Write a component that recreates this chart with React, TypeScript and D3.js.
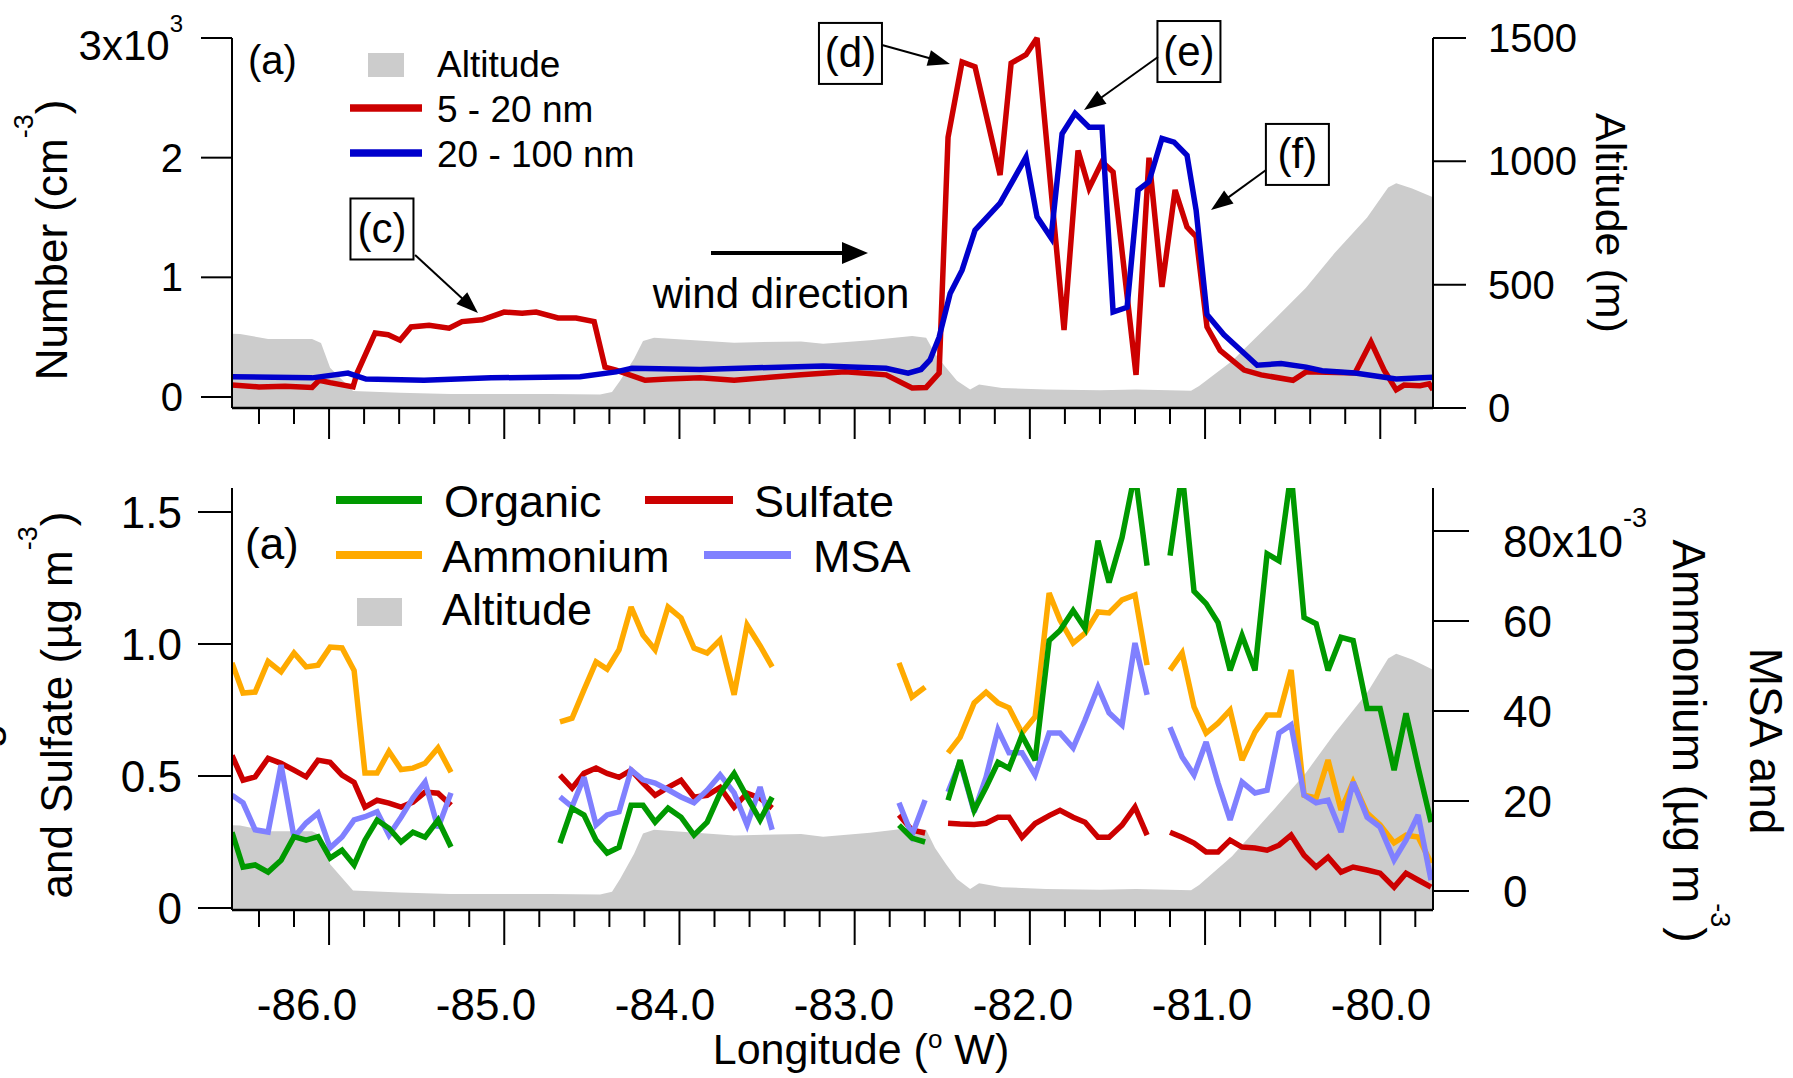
import React from 'react';
import * as d3 from 'd3';

const FONT = '"Liberation Sans", Arial, Helvetica, sans-serif';

// ---------------- Top panel: particle number concentration (cm-3) ----------------
const lon5to20 = [
  -86.554, -86.4, -86.251, -86.097, -86.057, -85.994, -85.863, -85.84, -85.737, -85.663,
  -85.595, -85.532, -85.429, -85.315, -85.241, -85.127, -85.001, -84.898, -84.818, -84.693,
  -84.59, -84.487, -84.425, -84.362, -84.196, -84.071, -83.882, -83.688, -83.483, -83.306,
  -83.055, -82.821, -82.672, -82.592, -82.518, -82.467, -82.387, -82.313, -82.17, -82.107,
  -82.022, -81.959, -81.805, -81.725, -81.662, -81.588, -81.525, -81.394, -81.32, -81.246,
  -81.171, -81.103, -81.051, -80.989, -80.914, -80.777, -80.68, -80.498, -80.423, -80.144,
  -80.053, -79.978, -79.909, -79.864, -79.773, -79.721, -79.699,
];
const num5to20 = [
  100, 84, 90, 80, 140, 120, 84, 200, 535, 520,
  475, 585, 600, 575, 630, 645, 710, 700, 710, 660,
  660, 630, 250, 225, 140, 150, 160, 140, 165, 185,
  210, 185, 75, 80, 200, 2170, 2800, 2760, 1855, 2790,
  2860, 3000, 560, 2060, 1745, 1965, 1880, 185, 2000, 920,
  1730, 1420, 1340, 585, 390, 225, 185, 140, 210, 200,
  460, 225, 60, 100, 95, 110, 60,
];
const lon20to100 = [
  -86.554, -86.097, -85.892, -85.789, -85.458, -85.075, -84.567, -84.362, -84.271, -83.882,
  -83.18, -82.821, -82.695, -82.621, -82.57, -82.518, -82.455, -82.387, -82.313, -82.17,
  -82.073, -82.022, -81.959, -81.879, -81.816, -81.742, -81.662, -81.588, -81.525, -81.445,
  -81.382, -81.32, -81.246, -81.177, -81.103, -81.051, -80.989, -80.892, -80.703, -80.566,
  -80.423, -80.332, -80.144, -79.909, -79.699,
];
const num20to100 = [
  170, 160, 200, 150, 140, 160, 170, 210, 240, 230,
  260, 240, 200, 230, 310, 500, 865, 1060, 1395, 1620,
  1870, 2005, 1505, 1330, 2200, 2370, 2255, 2255, 710, 750,
  1730, 1800, 2160, 2130, 2020, 1560, 690, 520, 265, 280,
  250, 220, 200, 150, 165,
];

// ---------------- Altitude (m), shown in both panels ----------------
const lonAlt = [
  -86.554, -86.508, -86.348, -86.097, -86.046, -85.994, -85.863, -85.595, -85.309, -84.739,
  -84.453, -84.385, -84.339, -84.259, -84.208, -84.145, -83.688, -83.306, -83.18, -82.912,
  -82.672, -82.592, -82.541, -82.478, -82.416, -82.341, -82.29, -82.159, -81.907, -81.599,
  -81.394, -81.08, -81.034, -80.846, -80.612, -80.424, -80.263, -80.075, -79.955, -79.909,
  -79.818, -79.699,
];
const altitude = [
  301, 300, 280, 280, 264, 163, 69, 62, 57, 57,
  55, 65, 110, 200, 272, 285, 265, 270, 260, 275,
  292, 285, 220, 163, 110, 75, 95, 81, 75, 72,
  75, 70, 89, 191, 354, 488, 626, 772, 894, 911,
  890, 854,
];

// ---------------- Bottom panel: aerosol composition (ug m-3); null = no data ----------------
const lonAms = [
  -86.554, -86.491, -86.422, -86.348, -86.274, -86.2, -86.131, -86.063, -85.994, -85.926,
  -85.857, -85.795, -85.726, -85.658, -85.589, -85.521, -85.452, -85.378, -85.304,
  -85.0,
  -84.682, -84.613, -84.545, -84.476, -84.413, -84.345, -84.276, -84.208, -84.139, -84.065,
  -83.991, -83.917, -83.842, -83.768, -83.688, -83.614, -83.54, -83.471,
  -83.1,
  -82.747, -82.673, -82.598,
  -82.53,
  -82.467, -82.398, -82.318, -82.25, -82.182, -82.119, -82.045, -81.97, -81.89, -81.828,
  -81.753, -81.685, -81.611, -81.548, -81.474, -81.4, -81.331,
  -81.27,
  -81.2, -81.131, -81.063, -80.994, -80.926, -80.857, -80.789, -80.715, -80.646, -80.578,
  -80.509, -80.435, -80.366, -80.298, -80.224, -80.155, -80.075, -80.001, -79.921, -79.853,
  -79.784, -79.71,
];
const organic = [
  0.287, 0.155, 0.163, 0.136, 0.181, 0.27, 0.257, 0.27, 0.189, 0.219,
  0.163, 0.257, 0.333, 0.302, 0.25, 0.287, 0.268, 0.333, 0.231,
  null,
  0.246, 0.378, 0.352, 0.257, 0.208, 0.23, 0.389, 0.389, 0.325, 0.378,
  0.344, 0.276, 0.325, 0.435, 0.51, 0.42, 0.333, 0.42,
  null,
  0.314, 0.265, 0.25,
  null,
  0.408, 0.56, 0.37, 0.457, 0.552, 0.529, 0.654, 0.56, 1.013, 1.051,
  1.127, 1.059, 1.391, 1.233, 1.403, 1.65, 1.297,
  null,
  1.335, 1.65, 1.2, 1.153, 1.081, 0.9, 1.032, 0.9, 1.342, 1.315,
  1.65, 1.1, 1.077, 0.9, 1.025, 1.013, 0.756, 0.756, 0.522, 0.737,
  0.533, 0.325,
];
const sulfate = [
  0.578, 0.484, 0.497, 0.567, 0.548, 0.522, 0.497, 0.56, 0.552, 0.503,
  0.476, 0.382, 0.408, 0.397, 0.382, 0.401, 0.439, 0.435, 0.389,
  null,
  0.503, 0.454, 0.51, 0.53, 0.51, 0.495, 0.522, 0.473, 0.427, 0.457,
  0.484, 0.42, 0.427, 0.457, 0.382, 0.435, 0.416, 0.378,
  null,
  0.352, 0.295, 0.284,
  null,
  0.321, 0.318, 0.316, 0.321, 0.344, 0.344, 0.268, 0.32, 0.35, 0.37,
  0.344, 0.325, 0.268, 0.268, 0.314, 0.382, 0.276,
  null,
  0.287, 0.268, 0.246, 0.212, 0.212, 0.257, 0.231, 0.227, 0.219, 0.238,
  0.276, 0.2, 0.155, 0.193, 0.136, 0.155, 0.144, 0.132, 0.079, 0.132,
  0.106, 0.079,
];
const ammonium = [
  0.0507, 0.044, 0.0442, 0.051, 0.0487, 0.0529, 0.0498, 0.0502, 0.0542, 0.054,
  0.049, 0.0262, 0.0262, 0.031, 0.027, 0.0273, 0.0284, 0.0318, 0.0264,
  null,
  0.0376, 0.0384, 0.0447, 0.0509, 0.0493, 0.0536, 0.0631, 0.0569, 0.0536, 0.0631,
  0.0607, 0.054, 0.0529, 0.0558, 0.0436, 0.0591, 0.0545, 0.0498,
  null,
  0.0507, 0.0431, 0.0453,
  null,
  0.0307, 0.0342, 0.0418, 0.0442, 0.0418, 0.0407, 0.0351, 0.0387, 0.0662, 0.0602,
  0.0551, 0.0573, 0.062, 0.0618, 0.0647, 0.0658, 0.0502,
  null,
  0.0491, 0.0529, 0.0409, 0.0351, 0.0373, 0.0402, 0.0291, 0.0353, 0.0391, 0.0391,
  0.0491, 0.0213, 0.0207, 0.0291, 0.018, 0.0242, 0.0173, 0.0147, 0.0107, 0.0124,
  0.012, 0.0062,
];
const msa = [
  0.0213, 0.0196, 0.0136, 0.0131, 0.028, 0.012, 0.0151, 0.0173, 0.0096, 0.012,
  0.0158, 0.0165, 0.0176, 0.0124, 0.0164, 0.0207, 0.0242, 0.014, 0.0218,
  null,
  0.0209, 0.0187, 0.0253, 0.0147, 0.0169, 0.0176, 0.0269, 0.0247, 0.024, 0.0225,
  0.0209, 0.0196, 0.0224, 0.0258, 0.0218, 0.0147, 0.0231, 0.0136,
  null,
  0.0196, 0.0124, 0.0202,
  null,
  0.022, 0.0287, 0.0176, 0.0253, 0.0358, 0.0307, 0.0307, 0.0258, 0.0351, 0.0351,
  0.0318, 0.038, 0.0453, 0.0396, 0.0369, 0.0551, 0.0436,
  null,
  0.0364, 0.0298, 0.0258, 0.0331, 0.024, 0.0158, 0.0242, 0.0218, 0.0224, 0.0351,
  0.0369, 0.0213, 0.0196, 0.0202, 0.0131, 0.0242, 0.0164, 0.0142, 0.0069, 0.0113,
  0.0169, 0.0024,
];

// ---------------- Ticks ----------------
const lonMajor = [-86, -85, -84, -83, -82, -81, -80];
const lonMinorIdx = d3.range(-432, -398); // multiples of 0.2 deg
const numberTicks = [0, 1000, 2000, 3000];
const numberTickLabels = ['0', '1', '2', '3x10'];
const altTicks = [0, 500, 1000, 1500];
const massTicks = [0, 0.5, 1.0, 1.5];
const massTickLabels = ['0', '0.5', '1.0', '1.5'];
const smallTicks = [0, 0.02, 0.04, 0.06, 0.08];
const smallTickLabels = ['0', '20', '40', '60', '80x10'];

const C = {
  red: '#cc0000',
  blue: '#0000cc',
  green: '#009900',
  orange: '#ffaa00',
  msa: '#8080ff',
  gray: '#cccccc',
};

const TOP = { l: 232, r: 1433, t: 38, b: 408 };
const BOT = { l: 232, r: 1433, t: 488, b: 910 };

function Arrow({ x1, y1, x2, y2, len = 22, half = 8, w = 2 }: any) {
  const a = Math.atan2(y2 - y1, x2 - x1);
  const c = Math.cos(a), s = Math.sin(a);
  const bx = x2 - len * c, by = y2 - len * s;
  const px = -s * half, py = c * half;
  return (
    <g>
      <line x1={x1} y1={y1} x2={bx + c} y2={by + s} stroke="#000" strokeWidth={w} />
      <polygon points={`${x2},${y2} ${bx + px},${by + py} ${bx - px},${by - py}`} fill="#000" />
    </g>
  );
}

export default function App() {
  const x = d3.scaleLinear().domain(d3.extent(lonAlt) as [number, number]).range([TOP.l, TOP.r]);
  const xLab = d3.scaleLinear().domain([-86, -80]).range([307, 1381]);
  const yNum = d3.scaleLinear().domain([0, 3000]).range([397, TOP.t]);
  const yAltT = d3.scaleLinear().domain([0, 1500]).range([TOP.b, TOP.t]);
  const yL = d3.scaleLinear().domain([0, 1.5]).range([908, 512]);
  const yR = d3.scaleLinear().domain([0, 0.08]).range([891, 531]);
  const yAltB = d3.scaleLinear().domain([0, 1500]).range([BOT.b, BOT.t]);

  const linePath = (xs: number[], ys: (number | null)[], ys2: any) =>
    d3
      .line<number>()
      .defined((i) => ys[i] != null)
      .x((i) => x(xs[i]))
      .y((i) => ys2(ys[i] as number))(d3.range(xs.length)) as string;

  const altArea = (yA: any, base: number) =>
    d3
      .area<number>()
      .x((i) => x(lonAlt[i]))
      .y0(base)
      .y1((i) => yA(altitude[i]))(d3.range(lonAlt.length)) as string;

  const lineStyle = { fill: 'none', strokeWidth: 5.5, strokeLinejoin: 'miter' as const, strokeMiterlimit: 3 };

  const xTicks = (yb: number, minorLen: number, majorLen: number) => (
    <g stroke="#000" strokeWidth={2}>
      {lonMinorIdx.map((i) => {
        const v = i * 0.2;
        const major = i % 5 === 0;
        return <line key={i} x1={x(v)} x2={x(v)} y1={yb} y2={yb + (major ? majorLen : minorLen)} />;
      })}
    </g>
  );

  // annotation positions in data space (top panel)
  const ann = [
    { t: '(c)', bx: -85.698, by: 1404, ax: -85.509, ay: 1187, tx: -85.15, ty: 702 },
    { t: '(d)', bx: -83.024, by: 2871, ax: -82.844, ay: 2942, tx: -82.456, ty: 2783 },
    { t: '(e)', bx: -81.092, by: 2887, ax: -81.269, ay: 2841, tx: -81.691, ty: 2398 },
    { t: '(f)', bx: -80.473, by: 2027, ax: -80.652, ay: 1897, tx: -80.966, ty: 1563 },
  ];

  return (
    <svg
      width={1793}
      height={1078}
      style={{ position: 'absolute', left: 0, top: 0, background: '#fff' }}
      fontFamily={FONT}
    >
      <defs>
        <clipPath id="clipTop">
          <rect x={TOP.l} y={TOP.t - 3} width={TOP.r - TOP.l} height={TOP.b - TOP.t + 3} />
        </clipPath>
        <clipPath id="clipBot">
          <rect x={BOT.l} y={BOT.t} width={BOT.r - BOT.l} height={BOT.b - BOT.t} />
        </clipPath>
        <clipPath id="clipLeg">
          <rect x={0} y={BOT.t - 2} width={1793} height={400} />
        </clipPath>
      </defs>

      {/* ===================== TOP PANEL ===================== */}
      <g clipPath="url(#clipTop)">
        <path d={altArea(yAltT, TOP.b)} fill={C.gray} />
        <path d={linePath(lon5to20, num5to20, yNum)} stroke={C.red} {...lineStyle} />
        <path d={linePath(lon20to100, num20to100, yNum)} stroke={C.blue} {...lineStyle} />
      </g>
      {/* axes */}
      <g stroke="#000" strokeWidth={2}>
        <line x1={TOP.l} x2={TOP.l} y1={TOP.t} y2={TOP.b} />
        <line x1={TOP.r} x2={TOP.r} y1={TOP.t} y2={TOP.b} />
        <line x1={TOP.l} x2={TOP.r} y1={TOP.b} y2={TOP.b} strokeWidth={2.5} />
        {numberTicks.map((v) => (
          <line key={v} x1={TOP.l - 31} x2={TOP.l} y1={yNum(v)} y2={yNum(v)} />
        ))}
        {altTicks.map((v) => (
          <line key={v} x1={TOP.r} x2={TOP.r + 33} y1={yAltT(v)} y2={yAltT(v)} />
        ))}
      </g>
      {xTicks(TOP.b, 16, 31)}
      <g fontSize={40} fill="#000">
        {numberTicks.map((v, i) =>
          i === 3 ? (
            <text key={v} x={183} y={yNum(v) + 22} textAnchor="end" fontSize={42}>
              {numberTickLabels[i]}
              <tspan fontSize={24} dy={-28}>3</tspan>
            </text>
          ) : (
            <text key={v} x={183} y={yNum(v) + 14} textAnchor="end">
              {numberTickLabels[i]}
            </text>
          )
        )}
        {altTicks.map((v) => (
          <text key={v} x={1488} y={yAltT(v) + 14} textAnchor="start">
            {v}
          </text>
        ))}
      </g>
      <text transform="translate(67,240) rotate(-90)" textAnchor="middle" fontSize={44}>
        Number (cm<tspan fontSize={27} dy={-34}>-3</tspan>
        <tspan dy={34}>)</tspan>
      </text>
      <text transform="translate(1596,223) rotate(90)" textAnchor="middle" fontSize={43}>
        Altitude (m)
      </text>

      {/* top legend */}
      <text x={248} y={74} fontSize={40}>(a)</text>
      <rect x={368} y={53} width={36} height={24} fill={C.gray} />
      <text x={437} y={77} fontSize={37}>Altitude</text>
      <line x1={350} x2={422} y1={108} y2={108} stroke={C.red} strokeWidth={7.5} />
      <text x={437} y={122} fontSize={37}>5 - 20 nm</text>
      <line x1={350} x2={422} y1={153} y2={153} stroke={C.blue} strokeWidth={7.5} />
      <text x={437} y={167} fontSize={37}>20 - 100 nm</text>

      {/* annotations */}
      {ann.map((a) => (
        <g key={a.t}>
          <rect
            x={x(a.bx) - 31.5}
            y={yNum(a.by) - 30.5}
            width={63}
            height={61}
            fill="#fff"
            stroke="#000"
            strokeWidth={2}
          />
          <text x={x(a.bx)} y={yNum(a.by) + 14} textAnchor="middle" fontSize={42}>
            {a.t}
          </text>
          <Arrow x1={x(a.ax)} y1={yNum(a.ay)} x2={x(a.tx)} y2={yNum(a.ty)} />
        </g>
      ))}
      <Arrow x1={x(-83.82)} y1={yNum(1203)} x2={x(-82.924)} y2={yNum(1203)} len={26} half={11} w={4} />
      <text x={x(-83.42)} y={yNum(744)} textAnchor="middle" fontSize={42}>
        wind direction
      </text>

      {/* ===================== BOTTOM PANEL ===================== */}
      <g clipPath="url(#clipBot)">
        <path d={altArea(yAltB, BOT.b)} fill={C.gray} />
        <path d={linePath(lonAms, sulfate, yL)} stroke={C.red} {...lineStyle} />
        <path d={linePath(lonAms, ammonium, yR)} stroke={C.orange} {...lineStyle} />
        <path d={linePath(lonAms, msa, yR)} stroke={C.msa} {...lineStyle} />
        <path d={linePath(lonAms, organic, yL)} stroke={C.green} {...lineStyle} />
      </g>
      <g stroke="#000" strokeWidth={2}>
        <line x1={BOT.l} x2={BOT.l} y1={BOT.t} y2={BOT.b} />
        <line x1={BOT.r} x2={BOT.r} y1={BOT.t} y2={BOT.b} />
        <line x1={BOT.l} x2={BOT.r} y1={BOT.b} y2={BOT.b} strokeWidth={2.5} />
        {massTicks.map((v) => (
          <line key={v} x1={BOT.l - 34} x2={BOT.l} y1={yL(v)} y2={yL(v)} />
        ))}
        {smallTicks.map((v) => (
          <line key={v} x1={BOT.r} x2={BOT.r + 36} y1={yR(v)} y2={yR(v)} />
        ))}
      </g>
      {xTicks(BOT.b, 17, 35)}
      <g fontSize={44} fill="#000">
        {massTicks.map((v, i) => (
          <text key={v} x={182} y={yL(v) + 16} textAnchor="end">
            {massTickLabels[i]}
          </text>
        ))}
        {smallTicks.map((v, i) =>
          i === 4 ? (
            <text key={v} x={1503} y={yR(v) + 26} textAnchor="start">
              {smallTickLabels[i]}
              <tspan fontSize={27} dy={-30}>-3</tspan>
            </text>
          ) : (
            <text key={v} x={1503} y={yR(v) + 16} textAnchor="start">
              {smallTickLabels[i]}
            </text>
          )
        )}
        {lonMajor.map((v) => (
          <text key={v} x={xLab(v)} y={1020} textAnchor="middle">
            {v.toFixed(1)}
          </text>
        ))}
      </g>
      <text x={861} y={1064} textAnchor="middle" fontSize={43}>
        Longitude (<tspan fontSize={26} dy={-16}>o</tspan>
        <tspan dy={16}> W)</tspan>
      </text>

      {/* bottom axis titles */}
      <text transform="translate(-3,720) rotate(-90)" textAnchor="middle" fontSize={44}>
        Organic
      </text>
      <text transform="translate(72,705) rotate(-90)" textAnchor="middle" fontSize={44}>
        and Sulfate (µg m<tspan fontSize={27} dy={-35}>-3</tspan>
        <tspan dy={35}>)</tspan>
      </text>
      <text transform="translate(1750,741) rotate(90)" textAnchor="middle" fontSize={46}>
        MSA and
      </text>
      <text transform="translate(1673,741) rotate(90)" textAnchor="middle" fontSize={46}>
        Ammonium (µg m<tspan fontSize={27} dy={-38}>-3</tspan>
        <tspan dy={38}>)</tspan>
      </text>

      {/* bottom legend */}
      <text x={245} y={559} fontSize={44}>(a)</text>
      <g clipPath="url(#clipLeg)" fontSize={45}>
        <line x1={336} x2={422} y1={500} y2={500} stroke={C.green} strokeWidth={8} />
        <text x={444} y={517}>Organic</text>
        <line x1={645} x2={733} y1={500} y2={500} stroke={C.red} strokeWidth={8} />
        <text x={754} y={517}>Sulfate</text>
        <line x1={336} x2={422} y1={555} y2={555} stroke={C.orange} strokeWidth={8} />
        <text x={442} y={572}>Ammonium</text>
        <line x1={704} x2={791} y1={555} y2={555} stroke={C.msa} strokeWidth={8} />
        <text x={813} y={572}>MSA</text>
        <rect x={357} y={598} width={45} height={28} fill={C.gray} />
        <text x={442} y={625}>Altitude</text>
      </g>
    </svg>
  );
}
